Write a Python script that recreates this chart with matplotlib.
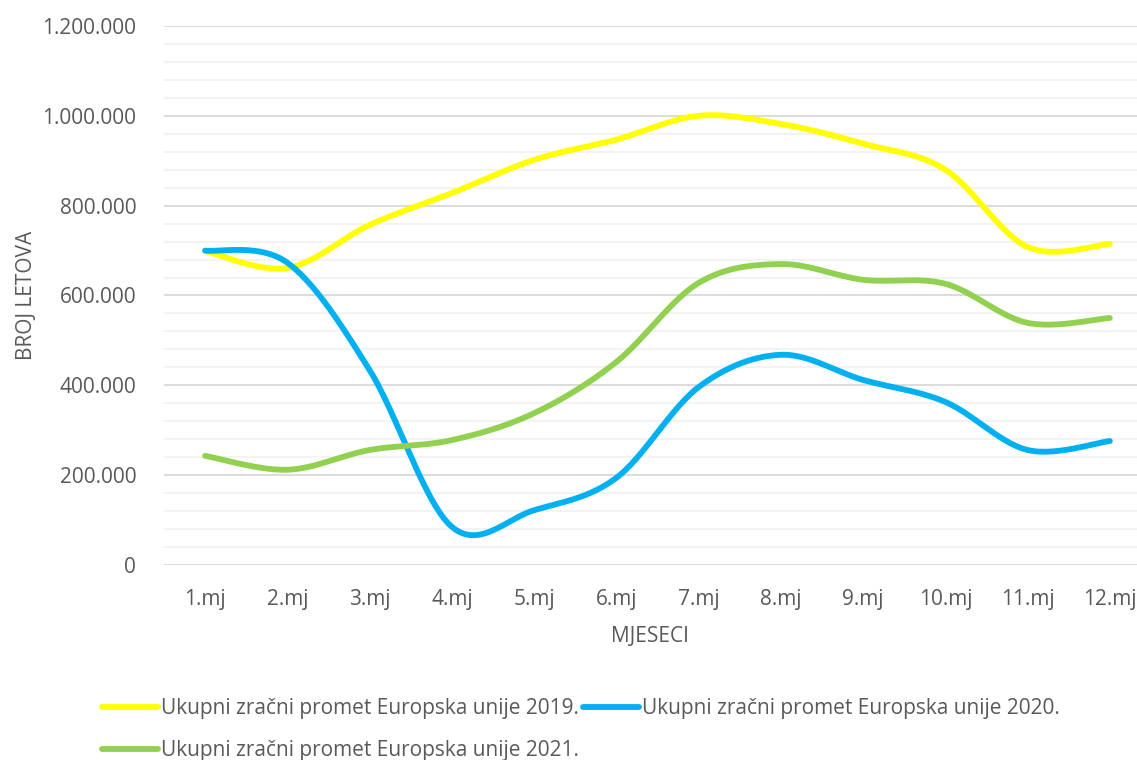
import matplotlib
matplotlib.use("Agg")
import matplotlib.pyplot as plt
from matplotlib.ticker import FuncFormatter, MultipleLocator
import numpy as np

# Ukupni zračni promet EU po mjesecima
mjeseci = ["1.mj", "2.mj", "3.mj", "4.mj", "5.mj", "6.mj",
           "7.mj", "8.mj", "9.mj", "10.mj", "11.mj", "12.mj"]
promet_2019 = [699000, 661000, 757000, 828000, 902000, 947000,
               1000000, 982000, 938000, 880000, 708000, 715000]
promet_2020 = [700000, 673000, 434000, 85000, 122000, 194000,
               396000, 468000, 412000, 363000, 256000, 276000]
promet_2021 = [243000, 212000, 256000, 278000, 338000, 452000,
               628000, 670000, 635000, 626000, 539000, 550000]
nazivi = ["Ukupni zračni promet Europska unije 2019.",
          "Ukupni zračni promet Europska unije 2020.",
          "Ukupni zračni promet Europska unije 2021."]
boje = ["#FFFF00", "#00B0F0", "#92D050"]


def smooth(x, y, n=30):
    # Bezier kao "smoothed line" u Excelu
    x = np.asarray(x, float)
    y = np.asarray(y, float)
    xs, ys = [x[0]], [y[0]]
    t = np.linspace(0, 1, n)[1:]
    for i in range(len(x) - 1):
        i0 = max(i - 1, 0)
        i3 = min(i + 2, len(x) - 1)
        p0 = np.array([x[i], y[i]])
        p3 = np.array([x[i + 1], y[i + 1]])
        p1 = p0 + (np.array([x[i + 1], y[i + 1]]) - np.array([x[i0], y[i0]])) / 6
        p2 = p3 - (np.array([x[i3], y[i3]]) - np.array([x[i], y[i]])) / 6
        for tt in t:
            pt = ((1 - tt) ** 3 * p0 + 3 * (1 - tt) ** 2 * tt * p1
                  + 3 * (1 - tt) * tt ** 2 * p2 + tt ** 3 * p3)
            xs.append(pt[0])
            ys.append(pt[1])
    return xs, ys


plt.rcParams["font.family"] = ["Open Sans", "DejaVu Sans"]
tekst = "#595959"

fig = plt.figure(figsize=(11.37, 7.6), dpi=100)
ax = fig.add_axes([0.1442, 0.2566, 1.0 - 0.1442, 0.9658 - 0.2566])

x = np.arange(1, len(mjeseci) + 1)
linije = []
for podaci, naziv, boja in zip([promet_2019, promet_2020, promet_2021], nazivi, boje):
    sx, sy = smooth(x, podaci)
    l, = ax.plot(sx, sy, color=boja, lw=4.2, solid_capstyle="round", label=naziv)
    linije.append(l)

ax.set_xlim(0.5, 12.33)
ax.set_ylim(0, 1200000)
ax.yaxis.set_major_locator(MultipleLocator(200000))
ax.yaxis.set_minor_locator(MultipleLocator(40000))
ax.yaxis.set_major_formatter(FuncFormatter(lambda v, p: f"{int(v):,}".replace(",", ".")))
ax.grid(which="major", axis="y", color="#D9D9D9", lw=1.3)
ax.grid(which="minor", axis="y", color="#F2F2F2", lw=1.3)
ax.set_axisbelow(True)
ax.set_xticks(x)
ax.set_xticklabels(mjeseci)
ax.tick_params(axis="both", which="both", length=0, labelsize=15, colors=tekst)
ax.tick_params(axis="x", pad=17)
ax.tick_params(axis="y", pad=20)
for s in ax.spines.values():
    s.set_visible(False)

ax.set_xlabel("MJESECI", fontsize=15, color=tekst, labelpad=12)
ax.set_ylabel("BROJ LETOVA", fontsize=15, color=tekst, labelpad=4)

# redoslijed: 2019 i 2020 u prvom redu, 2021 u drugom
red = [0, 2, 1]
fig.legend([linije[i] for i in red], [nazivi[i] for i in red],
           loc="upper left", bbox_to_anchor=(0.082, 0.092), ncol=2,
           frameon=False, fontsize=15, handlelength=2.7, handletextpad=0.15,
           columnspacing=0.2, labelspacing=1.0, labelcolor=tekst, borderaxespad=0)

fig.savefig("out.png", dpi=100)
